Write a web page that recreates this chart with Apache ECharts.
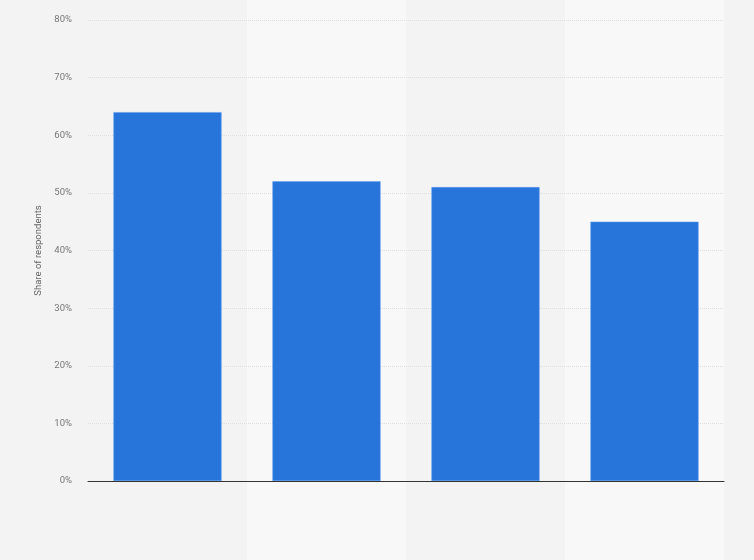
<!DOCTYPE html>
<html>
<head>
<meta charset="utf-8">
<script src="https://cdn.jsdelivr.net/npm/echarts@6/dist/echarts.min.js"></script>
<style>
  html, body { margin: 0; padding: 0; background: #f3f3f3; }
  #main { width: 754px; height: 560px; }
</style>
</head>
<body>
<div id="main"></div>
<script>
// categories have no visible labels in the picture
var categories = ['A', 'B', 'C', 'D'];
var shares = [64, 52, 51, 45];
var yTicks = [0, 10, 20, 30, 40, 50, 60, 70, 80];

var myChart = echarts.init(document.getElementById('main'));

var option = {
    backgroundColor: '#f3f3f3',
    textStyle: { fontFamily: 'Roboto, Arial, sans-serif' },
    grid: [
        { left: 88, right: 30, top: 20, bottom: 79 },
        // full-height grid only for the alternating column bands
        { left: 88, right: 30, top: 0, bottom: 0 }
    ],
    xAxis: [
        {
            type: 'category',
            gridIndex: 0,
            data: categories,
            z: 4,
            axisLine: { lineStyle: { color: '#333', width: 1 } },
            axisTick: { show: false },
            axisLabel: { show: false }
        },
        {
            type: 'category',
            gridIndex: 1,
            data: categories,
            z: 0,
            axisLine: { show: false },
            axisTick: { show: false },
            axisLabel: { show: false },
            splitArea: { show: true, areaStyle: { color: ['#f3f3f3', '#f8f8f8'] } }
        }
    ],
    yAxis: [
        {
            type: 'value',
            gridIndex: 0,
            z: 2,
            min: yTicks[0],
            max: yTicks[yTicks.length - 1],
            interval: 10,
            name: 'Share of respondents',
            nameLocation: 'middle',
            nameGap: 42,
            nameTextStyle: { color: '#666', fontSize: 9.5 },
            axisLine: { show: false },
            axisTick: { show: false },
            axisLabel: { color: '#777', fontSize: 9.5, formatter: '{value}%', margin: 16 },
            splitLine: { lineStyle: { color: '#dedede', type: [1, 1] } }
        },
        {
            type: 'value',
            gridIndex: 1,
            show: false
        }
    ],
    series: [
        {
            type: 'bar',
            xAxisIndex: 0,
            yAxisIndex: 0,
            data: shares,
            barWidth: '68%',
            z: 3,
            itemStyle: { color: '#2775db', borderColor: '#5b9af0', borderWidth: 0.5 }
        }
    ]
};

myChart.setOption(option);
</script>
</body>
</html>
